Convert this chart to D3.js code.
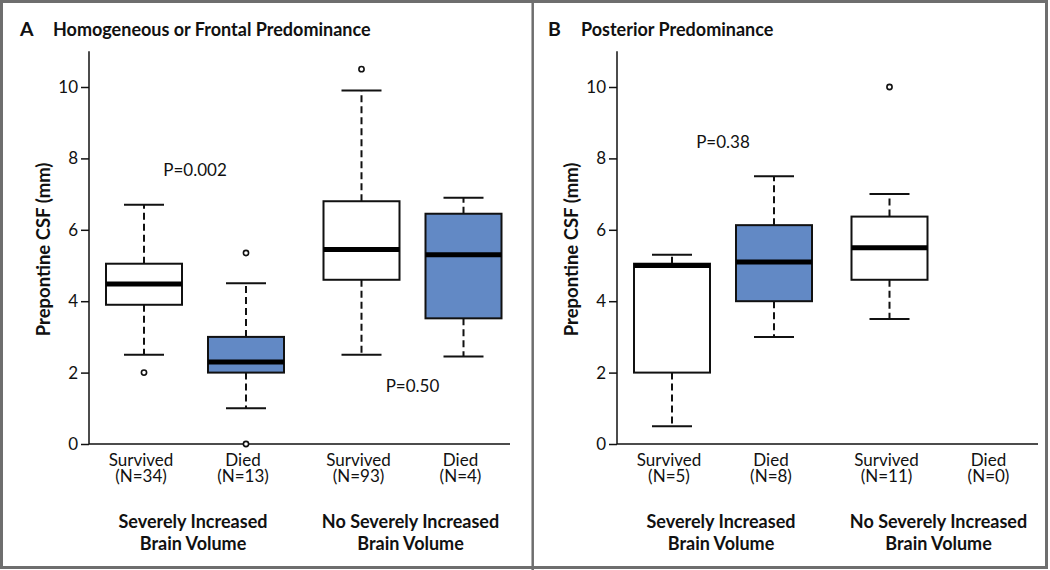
<!DOCTYPE html>
<html><head><meta charset="utf-8">
<script src="https://cdn.jsdelivr.net/npm/d3@7"></script>
<style>html,body{margin:0;padding:0;background:#fff}svg{display:block}text{font-family:Lato,"Noto Sans",sans-serif;fill:#111}</style>
</head><body><svg id="c" width="1050" height="570"></svg>
<script>
// ---- data ----
const groups = ["Severely Increased|Brain Volume", "No Severely Increased|Brain Volume"];
const outcomes = ["Survived", "Died"];
const yTicks = [0, 2, 4, 6, 8, 10];
const panelLetters = ["A", "B"];
const panelTitles = ["Homogeneous or Frontal Predominance", "Posterior Predominance"];
// order: [group0 Survived, group0 Died, group1 Survived, group1 Died]
const countsA = [34, 13, 93, 4];
const countsB = [5, 8, 11, 0];
// [lowWhisker, q1, median, q3, highWhisker]
const statsA = [[2.5, 3.9, 4.48, 5.05, 6.7], [1.0, 2.0, 2.3, 3.0, 4.5], [2.5, 4.6, 5.45, 6.8, 9.9], [2.45, 3.52, 5.3, 6.45, 6.9]];
const statsB = [[0.5, 2.0, 5.0, 5.05, 5.3], [3.0, 4.0, 5.1, 6.13, 7.5], [3.5, 4.6, 5.5, 6.37, 7.0], null];
const outliersA = [[2.0], [5.35, 0], [10.5], []];
const outliersB = [[], [], [10.0], []];
const pTextA = ["P=0.002", "P=0.50"];
const pYA = [7.5, 1.45];
const pTextB = ["P=0.38", null];
const pYB = [8.28, null];

const svg = d3.select("#c");
const blue = "#6289c5";

const y = d3.scaleLinear().domain([0, 11]).range([444, 51.3]);
const gx = d3.scalePoint().domain(groups).range([106, 323.5]);
const ox = d3.scalePoint().domain(outcomes).range([-51, 51]);
const boxW = 76, capW = 40;

function drawPanel(px, letter, title, stats, outl, counts, ptext, py) {
  const g = svg.append("g").attr("transform", `translate(${px},0)`);
  g.append("text").attr("x", -69).attr("y", 36).style("font-weight", 700).style("font-size", "19.5px").text(letter);
  g.append("text").attr("x", -36).attr("y", 36).style("font-weight", 700).style("font-size", "18px").text(title);
  // y axis
  const ax = g.append("g").call(d3.axisLeft(y).tickValues(yTicks).tickSize(8).tickPadding(3).tickSizeOuter(0));
  ax.select(".domain").remove();
  ax.selectAll(".tick line").attr("stroke", "#111").attr("stroke-width", 1.5);
  ax.selectAll(".tick text").style("font-size", "17px").style("font-family", "Lato, sans-serif").attr("fill", "#111");
  g.append("line").attr("x1", 0).attr("x2", 0).attr("y1", y(0)).attr("y2", y(11)).attr("stroke", "#111").attr("stroke-width", 1.5);
  g.append("line").attr("x1", 0).attr("x2", 421).attr("y1", y(0)).attr("y2", y(0)).attr("stroke", "#111").attr("stroke-width", 1.5);
  g.append("text").attr("transform", `translate(-45,${y(5.45)}) rotate(-90)`).attr("text-anchor", "middle")
    .attr("dy", "0.35em").style("font-weight", 700).style("font-size", "18.5px").text("Prepontine CSF (mm)");

  const items = [];
  groups.forEach((gr, gi) => outcomes.forEach((oc, oi) => items.push({gr, oc, i: gi * 2 + oi})));
  items.forEach(d => {
    const cx = gx(d.gr) + ox(d.oc);
    const s = stats[d.i];
    const t = g.append("text").attr("text-anchor", "middle").style("font-size", "17px");
    t.append("tspan").attr("x", cx - 3).attr("y", 466).text(d.oc);
    t.append("tspan").attr("x", cx - 3).attr("y", 482).text(`(N=${counts[d.i]})`);
    if (!s) return;
    const fill = d.oc === "Died" ? blue : "#fff";
    const [lo, q1, med, q3, hi] = s;
    g.append("line").attr("x1", cx).attr("x2", cx).attr("y1", y(q3)).attr("y2", y(hi)).attr("stroke", "#111").attr("stroke-width", 2).attr("stroke-dasharray", "7,4");
    g.append("line").attr("x1", cx).attr("x2", cx).attr("y1", y(q1)).attr("y2", y(lo)).attr("stroke", "#111").attr("stroke-width", 2).attr("stroke-dasharray", "7,4");
    [lo, hi].forEach(v => g.append("line").attr("x1", cx - capW / 2).attr("x2", cx + capW / 2).attr("y1", y(v)).attr("y2", y(v)).attr("stroke", "#111").attr("stroke-width", 2));
    g.append("rect").attr("x", cx - boxW / 2).attr("y", y(q3)).attr("width", boxW).attr("height", y(q1) - y(q3))
      .attr("fill", fill).attr("stroke", "#111").attr("stroke-width", 2);
    g.append("line").attr("x1", cx - boxW / 2).attr("x2", cx + boxW / 2).attr("y1", y(med)).attr("y2", y(med)).attr("stroke", "#000").attr("stroke-width", 5);
    outl[d.i].forEach(v => g.append("circle").attr("cx", cx).attr("cy", y(v)).attr("r", 2.6).attr("fill", "#fff").attr("stroke", "#111").attr("stroke-width", 1.6));
  });
  groups.forEach((gr, gi) => {
    const lines = gr.split("|");
    const t = g.append("text").attr("text-anchor", "middle").style("font-weight", 700).style("font-size", "18px");
    lines.forEach((l, li) => t.append("tspan").attr("x", gx(gr) - 2).attr("y", 528 + li * 21.5).text(l));
    if (ptext[gi]) g.append("text").attr("x", gx(gr)).attr("y", y(py[gi])).attr("text-anchor", "middle").style("font-size", "17px").text(ptext[gi]);
  });
}

drawPanel(89, panelLetters[0], panelTitles[0], statsA, outliersA, countsA, pTextA, pYA);
drawPanel(617, panelLetters[1], panelTitles[1], statsB, outliersB, countsB, pTextB, pYB);

svg.append("rect").attr("x", 1.5).attr("y", 1.5).attr("width", 1045).attr("height", 566).attr("fill", "none").attr("stroke", "#6e6e6e").attr("stroke-width", 3);
svg.append("line").attr("x1", 532.7).attr("x2", 532.7).attr("y1", 0).attr("y2", 570).attr("stroke", "#6e6e6e").attr("stroke-width", 2.5);
</script></body></html>
